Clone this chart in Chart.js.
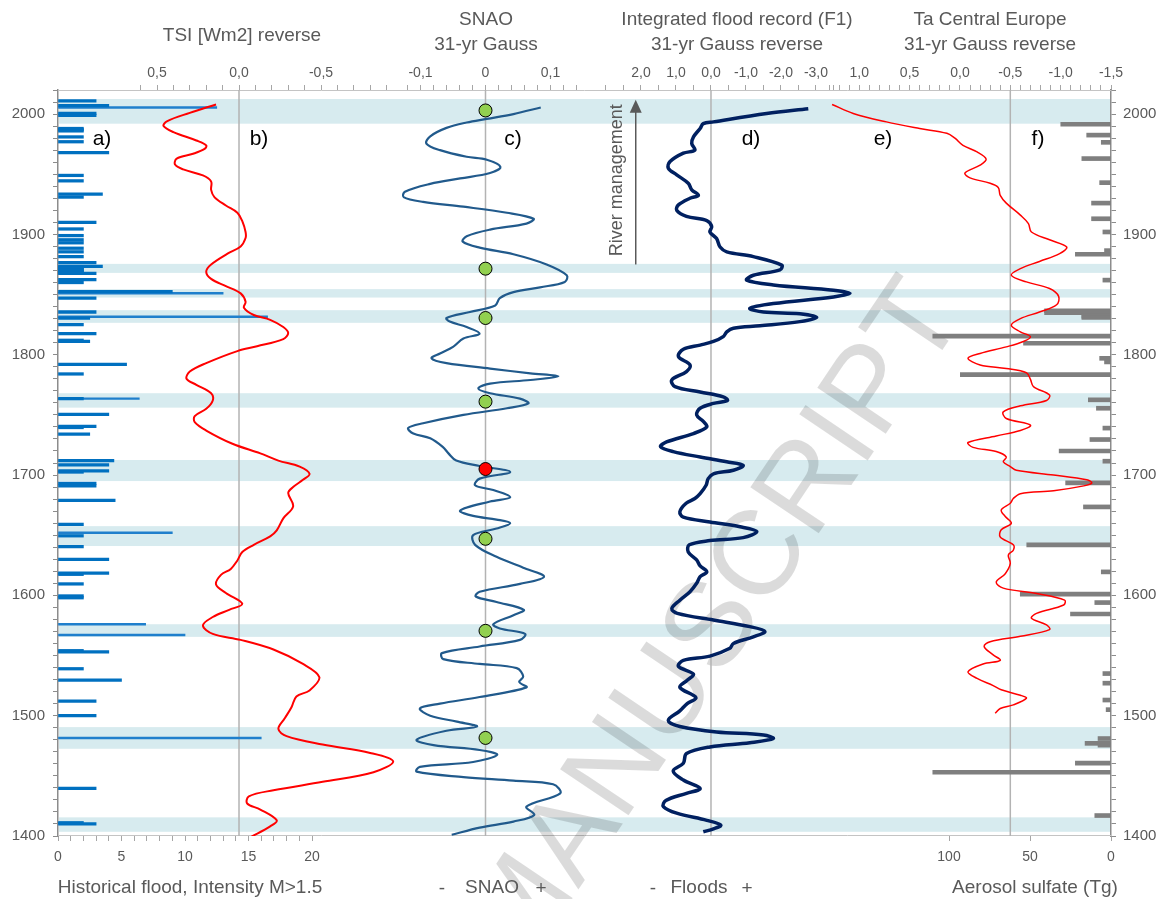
<!DOCTYPE html>
<html lang="en">
<head>
<meta charset="UTF-8" />
<title>Floods, SNAO, TSI and temperature 1400-2000</title>
<script src="https://cdn.jsdelivr.net/npm/chart.js"></script>
<style>
  html, body { margin: 0; padding: 0; background: #fff; overflow: hidden; }
  #wrap { position: relative; width: 1165px; height: 899px; }
</style>
</head>
<body>
<div id="wrap"><canvas id="chart"></canvas></div>
<script>
// ---------- data ----------
// light blue flood-rich periods
const bandStart = [1992, 1868, 1847.5, 1826.5, 1756, 1695, 1641, 1565.5, 1472.5, 1403.5];
const bandEnd   = [2012.5, 1875.5, 1854.5, 1837, 1768, 1712.5, 1657.5, 1576, 1490.5, 1415.5];

// a) historical floods, intensity
const floodYears = [2011, 2007, 2000.5, 1999, 1988, 1987, 1986, 1981, 1977, 1968, 1949, 1944.5, 1933.5, 1931, 1910,
  1904.5, 1899, 1895.5, 1893, 1888.5, 1885.5, 1881.5, 1876.5, 1873.5, 1873, 1872, 1871, 1870, 1869, 1868, 1867.5,
  1862.5, 1860, 1852.5, 1847, 1835.5, 1830.5, 1825, 1817.5, 1812, 1811, 1792, 1784, 1763.5, 1750.5, 1740.5, 1739.5,
  1734, 1712, 1708.5, 1703.5, 1702.5, 1693, 1691, 1679, 1659, 1649.5, 1640.5, 1630, 1618.5, 1617.5, 1609.5,
  1599.5, 1598, 1553, 1554, 1539, 1529.5, 1512, 1500, 1439.5, 1411, 1410];
const floodIntensity = [3, 4, 3, 3, 2, 2, 2, 2, 2, 4, 2, 2, 3.5, 2, 3,
  2, 2, 2, 2, 2, 2, 2, 3, 3.5, 2, 2, 2, 2, 2, 2, 3,
  3, 2, 9, 3, 3, 2.5, 2, 3, 2, 2.5, 5.4, 2, 2, 4, 3, 2,
  2.5, 4.4, 4, 4, 2, 3, 3, 4.5, 2, 2, 2, 4, 4, 2, 2,
  2, 2, 4, 2, 2, 5, 3, 3, 3, 2, 3];
const floodPeakYears = [2005.5, 1851, 1831.5, 1763.5, 1652, 1576, 1567, 1481.5];
const floodPeakIntensity = [12.5, 13, 16.5, 6.4, 9, 6.9, 10, 16];

// b) TSI [Wm2]
const tsiYears = [2008, 2001, 1994, 1990, 1985, 1978, 1974, 1971, 1967, 1963, 1958, 1954, 1949, 1944, 1937, 1931,
  1924, 1918, 1911, 1902, 1897, 1890, 1884, 1875, 1869, 1863, 1857, 1851, 1844, 1839, 1833, 1829, 1823, 1818, 1813,
  1807, 1803, 1793, 1786, 1780, 1775, 1768, 1762, 1755, 1749, 1744, 1737, 1726, 1718, 1712, 1707, 1701, 1696, 1690,
  1685, 1674, 1664, 1654, 1649, 1642, 1636, 1629, 1622, 1617, 1609, 1602, 1593, 1588, 1582, 1575, 1568, 1563, 1555,
  1543, 1532, 1521, 1516, 1507, 1498, 1489, 1483, 1476, 1469, 1462, 1453, 1445, 1438, 1433, 1427, 1422, 1413, 1408, 1399];
const tsiValues = [0.14, 0.30, 0.44, 0.46, 0.40, 0.26, 0.20, 0.21, 0.28, 0.38, 0.39, 0.34, 0.22, 0.17, 0.17, 0.15,
  0.08, 0.01, -0.02, -0.04, -0.04, -0.01, 0.07, 0.17, 0.20, 0.17, 0.08, -0.01, -0.04, -0.03, -0.09, -0.19, -0.27, -0.30, -0.27,
  -0.11, 0.01, 0.20, 0.30, 0.32, 0.26, 0.17, 0.16, 0.20, 0.27, 0.27, 0.20, 0.04, -0.13, -0.24, -0.37, -0.43, -0.39, -0.33,
  -0.30, -0.33, -0.27, -0.23, -0.19, -0.09, -0.02, 0.01, 0.05, 0.11, 0.14, 0.08, -0.02, 0.06, 0.16, 0.22, 0.16, -0.01, -0.21,
  -0.39, -0.49, -0.43, -0.35, -0.32, -0.28, -0.24, -0.29, -0.51, -0.80, -0.94, -0.82, -0.51, -0.21, -0.06, -0.05, -0.13, -0.23, -0.19, -0.07];

// c) SNAO 31-yr Gauss
const snaoYears = [2005.5, 2000, 1996, 1993, 1988.5, 1981.5, 1975.5, 1970, 1964.5, 1962,
  1956, 1951, 1946.5, 1942, 1935.5, 1931, 1927, 1923, 1918, 1913,
  1909, 1904, 1898.5, 1894, 1889, 1883.5, 1875, 1866, 1860.5, 1856,
  1852, 1847, 1841, 1835.5, 1830.5, 1827.5, 1823, 1817.5, 1813.5, 1806.5,
  1801, 1797, 1793, 1788.5, 1784.5, 1782, 1779, 1776, 1772, 1768,
  1763.5, 1759.5, 1755.5, 1750, 1743, 1739, 1734.5, 1730.5, 1723, 1718,
  1712, 1707.5, 1702.5, 1697, 1691.5, 1687.5, 1681.5, 1678, 1670.5, 1666,
  1663, 1660, 1655.5, 1650, 1642, 1632, 1623, 1615.5, 1609.5, 1603,
  1599, 1594.5, 1588, 1583.5, 1576, 1572.5, 1568, 1563, 1557.5, 1552,
  1547, 1543, 1539.5, 1532.5, 1528, 1523.5, 1515.5, 1510, 1506, 1500,
  1495, 1491, 1487.5, 1480, 1475.5, 1471.5, 1467.5, 1461.5, 1457.5, 1453.5,
  1449, 1446, 1443, 1435.5, 1424.5, 1417.5, 1412, 1407, 1401];
const snaoValues = [0.085, 0.043, 0.002, -0.029, -0.060, -0.085, -0.091, -0.070, -0.029, 0.002,
  0.023, 0.007, -0.039, -0.085, -0.124, -0.126, -0.096, -0.034, 0.033, 0.074,
  0.063, 0.007, -0.029, -0.035, -0.009, 0.043, 0.094, 0.125, 0.122, 0.084,
  0.043, 0.022, 0.015, -0.024, -0.060, -0.055, -0.029, -0.009, -0.034, -0.050,
  -0.070, -0.083, -0.060, 0.007, 0.069, 0.112, 0.069, 0.007, -0.011, 0.007,
  0.053, 0.066, 0.033, -0.034, -0.096, -0.119, -0.111, -0.085, -0.065, -0.057,
  -0.045, -0.009, 0.038, -0.009, -0.016, 0.012, 0.038, 0.007, -0.039, -0.019,
  0.017, 0.038, 0.017, -0.019, -0.016, 0.017, 0.058, 0.090, 0.053, -0.009,
  -0.015, 0.017, 0.059, 0.043, 0.012, 0.022, 0.061, 0.053, -0.009, -0.067,
  -0.065, -0.009, 0.048, 0.058, 0.052, 0.063, -0.009, -0.070, -0.101, -0.085,
  -0.044, -0.013, -0.060, -0.106, -0.080, -0.009, 0.018, -0.019, -0.101, -0.106,
  -0.034, 0.043, 0.104, 0.115, 0.063, 0.075, 0.043, -0.009, -0.052];
const markerYears = [2003, 1871.5, 1830.5, 1761, 1705, 1647, 1570.5, 1481.5];
const markerColors = ['#92d050', '#92d050', '#92d050', '#92d050', '#ff0000', '#92d050', '#92d050', '#92d050'];

// d) integrated flood record F1
const f1Years = [2004.5, 2000.5, 1993.5, 1992, 1988, 1981, 1975.5, 1970, 1967.5, 1960.5,
  1955, 1949.5, 1942.5, 1937, 1932.5, 1930, 1924.5, 1920, 1915, 1911.5,
  1906.5, 1902, 1896.5, 1889.5, 1885.5, 1881.5, 1874.5, 1870.5, 1866, 1862,
  1858, 1853.5, 1851, 1848, 1842.5, 1838.5, 1835.5, 1834, 1831, 1827.5,
  1824, 1822, 1819, 1815, 1811, 1808, 1804.5, 1798.5, 1791.5, 1786,
  1779, 1773.5, 1769, 1765, 1762, 1759.5, 1755.5, 1750, 1744.5, 1740,
  1734.5, 1727.5, 1723.5, 1719.5, 1715, 1711, 1708, 1704, 1701, 1697,
  1691.5, 1684.5, 1680.5, 1676.5, 1669.5, 1665, 1661, 1657, 1653, 1648,
  1645.5, 1642, 1636, 1629.5, 1624.5, 1619.5, 1615.5, 1610, 1603, 1596,
  1589, 1585, 1579.5, 1574, 1570, 1565.5, 1560, 1556, 1549.5, 1546,
  1541, 1534.5, 1529.5, 1523.5, 1515, 1510, 1504, 1496, 1491, 1486.5,
  1484, 1481, 1477.5, 1474, 1468.5, 1460.5, 1454, 1446.5, 1439.5, 1435.5,
  1429.5, 1424.5, 1419, 1413, 1409, 1406, 1403.5];
const f1Values = [-2.78, -1.59, -0.07, 0.22, 0.31, 0.50, 0.55, 0.46, 0.79, 1.17,
  1.22, 0.98, 0.65, 0.55, 0.36, 0.60, 0.93, 0.98, 0.70, 0.12,
  -0.02, 0.03, -0.16, -0.26, -0.45, -1.21, -2.02, -1.97, -1.21, -1.02,
  -1.78, -3.50, -3.97, -3.50, -1.78, -1.11, -1.50, -2.54, -3.02, -2.54,
  -1.40, -0.64, -0.45, -0.35, -0.07, 0.31, 0.79, 0.93, 0.60, 0.70,
  1.12, 1.03, 0.31, -0.35, -0.47, -0.07, 0.31, 0.41, 0.22, 0.12,
  0.50, 1.27, 1.44, 1.08, 0.31, -0.45, -0.92, -0.64, -0.07, 0.08,
  0.14, 0.31, 0.46, 0.71, 0.89, 0.79, 0.03, -0.83, -1.31, -0.92,
  0.03, 0.62, 0.65, 0.41, 0.31, 0.12, 0.31, 0.41, 0.60, 0.89,
  1.12, 0.96, -0.07, -1.11, -1.54, -1.21, -0.64, -0.54, 0.03, 0.79,
  0.93, 0.50, 0.68, 0.89, 0.43, 0.68, 0.89, 1.22, 0.89, -0.16,
  -1.50, -1.78, -1.11, 0.03, 0.70, 0.79, 1.08, 0.79, 0.31, 0.70,
  1.29, 1.36, 0.98, 0.12, -0.28, -0.07, 0.22];

// e) Ta Central Europe
const taYears = [2008, 2000.5, 1993.5, 1988, 1984, 1980, 1974, 1968.5, 1962.5, 1957.5,
  1951, 1947, 1942.5, 1939, 1932.5, 1926, 1916, 1909, 1902, 1895.5,
  1889.5, 1884, 1877.5, 1871.5, 1866, 1860.5, 1855, 1848.5, 1841.5, 1835.5,
  1830, 1824.5, 1819, 1815, 1811, 1806.5, 1801, 1797, 1791.5, 1788.5,
  1785, 1779.5, 1773.5, 1766.5, 1762, 1757.5, 1752.5, 1747, 1741.5, 1737,
  1732.5, 1727, 1723, 1719.5, 1715, 1711, 1707, 1704, 1700, 1696,
  1693.5, 1691, 1687, 1684.5, 1680.5, 1676.5, 1671, 1665.5, 1660, 1654.5,
  1648.5, 1642, 1637.5, 1633.5, 1626.5, 1618, 1611, 1606, 1601.5, 1596,
  1592, 1585, 1581, 1575.5, 1571.5, 1566, 1561.5, 1557.5, 1550.5, 1546,
  1543, 1536.5, 1531, 1525, 1521.5, 1517, 1514.5, 1509, 1506, 1502];
const taValues = [1.27, 1.06, 0.73, 0.40, 0.13, 0.05, -0.03, -0.17, -0.26, -0.20,
  -0.05, -0.10, -0.30, -0.38, -0.40, -0.46, -0.60, -0.68, -0.71, -0.89,
  -1.06, -0.99, -0.79, -0.60, -0.51, -0.66, -0.89, -0.98, -0.96, -0.79,
  -0.60, -0.51, -0.60, -0.70, -0.63, -0.46, -0.20, -0.08, -0.20, -0.46,
  -0.66, -0.70, -0.73, -0.89, -0.86, -0.60, -0.43, -0.46, -0.70, -0.60,
  -0.36, -0.08, -0.13, -0.36, -0.46, -0.43, -0.50, -0.56, -0.93, -1.26,
  -1.31, -1.23, -0.93, -0.60, -0.53, -0.50, -0.41, -0.45, -0.51, -0.41,
  -0.40, -0.53, -0.53, -0.48, -0.50, -0.45, -0.36, -0.43, -0.76, -1.04,
  -1.03, -0.76, -0.71, -0.86, -0.89, -0.60, -0.30, -0.24, -0.33, -0.40,
  -0.23, -0.08, -0.17, -0.33, -0.41, -0.60, -0.66, -0.53, -0.40, -0.35];

// f) aerosol sulfate (Tg)
const aerosolYears = [1991.5, 1982.5, 1976.5, 1963, 1943, 1926, 1913, 1902, 1886.5, 1883.5,
  1862, 1836.5, 1835, 1832, 1831, 1815.5, 1809.5, 1797, 1794, 1783.5,
  1762.5, 1755.5, 1739, 1729.5, 1720, 1711.5, 1693.5, 1673.5, 1642, 1619.5,
  1601, 1594, 1584.5, 1535, 1527, 1513, 1505, 1481, 1477, 1475.5,
  1460.5, 1453, 1417];
const aerosolSulfate = [31, 15, 6, 18, 7, 12, 12, 5, 4, 22,
  5, 41, 41, 18, 18, 110, 54, 7, 4, 93,
  14, 9, 5, 13, 32, 5, 28, 17, 52, 6,
  56, 10, 25, 5, 5, 5, 3, 8, 16, 8,
  22, 110, 10];

// axis ticks
const yearTicks = steps(1400, 2020, 10);
const floodTicks = steps(0, 20, 1), floodTickLabels = [0, 5, 10, 15, 20];
const tsiTicks = steps(0.6, -0.9, 0.1), tsiTickLabels = [0.5, 0, -0.5];
const snaoTicks = steps(-0.12, 0.14, 0.02), snaoTickLabels = [-0.1, 0, 0.1];
const f1Ticks = steps(3, -3.5, 0.5), f1TickLabels = [2, 1, 0, -1, -2, -3];
const taTicks = steps(1.3, -1.5, 0.1), taTickLabels = [1, 0.5, 0, -0.5, -1, -1.5];
const aerosolTicks = [0, 50, 100];

// ---------- helpers ----------
function steps(from, to, step) {
  const n = Math.round(Math.abs(to - from) / step);
  const dir = to >= from ? 1 : -1;
  return Array.from({ length: n + 1 }, (_, i) => +(from + dir * i * step).toFixed(4));
}
const FONT = "'Liberation Sans', Arial, sans-serif";
const GREY = '#595959';
const comma1 = v => v.toFixed(1).replace('.', ',');

function xAxis(position, min, max, reverse, tickList, labelList, fmt) {
  return {
    type: 'linear', axis: 'x', position, min, max, reverse, bounds: 'data', offset: false,
    afterFit: s => { s.height = 0; },
    afterBuildTicks: s => { s.ticks = tickList.map(v => ({ value: v })); },
    grid: { display: true, drawOnChartArea: false, drawTicks: true, tickLength: 5, color: '#a6a6a6' },
    border: { display: false },
    ticks: {
      autoSkip: false, maxRotation: 0, padding: position === 'top' ? 3 : 8,
      color: GREY, font: { family: FONT, size: 14 },
      callback: v => labelList.includes(v) ? fmt(v) : ''
    }
  };
}
function yAxis(position, width) {
  return {
    type: 'linear', axis: 'y', position, min: 1400, max: 2020, bounds: 'data', offset: false,
    afterFit: s => { s.width = width; },
    afterBuildTicks: s => { s.ticks = yearTicks.map(v => ({ value: v })); },
    grid: { display: true, offset: false, drawOnChartArea: false, tickLength: 5, color: '#8c8c8c' },
    border: { display: true, color: '#8c8c8c', width: 1.5 },
    ticks: {
      autoSkip: false, padding: position === 'left' ? 8 : 7,
      color: GREY, font: { family: FONT, size: 15 },
      callback: v => v % 100 === 0 ? String(v) : ''
    }
  };
}
function curve(axisId, years, values, color, width) {
  return {
    type: 'scatter', xAxisID: axisId, yAxisID: 'y',
    data: years.map((yr, i) => ({ x: values[i], y: yr })),
    showLine: true, borderColor: color, borderWidth: width,
    pointRadius: 0, tension: 0.35, order: 2
  };
}
function refLine(axisId, value) {
  return {
    type: 'scatter', xAxisID: axisId, yAxisID: 'y',
    data: [{ x: value, y: 1400 }, { x: value, y: 2020 }],
    showLine: true, borderColor: '#b3b3b3', borderWidth: 1.5, pointRadius: 0, order: 10
  };
}
function hbars(axisId, years, values, color, thickness, order) {
  return {
    type: 'bar', indexAxis: 'y', xAxisID: axisId, yAxisID: 'y',
    data: years.map((yr, i) => ({ x: values[i], y: yr })),
    backgroundColor: color, barThickness: thickness, grouped: false, order
  };
}

// ---------- decorations ----------
const decor = {
  id: 'decor',
  // the stacked x axes have zero height; widen their boxes so tick labels are not clipped
  afterLayout(chart) {
    Object.values(chart.scales).forEach(s => {
      if (s.options.position === 'top') s.top = 0;
      if (s.options.position === 'bottom') s.bottom = chart.height;
    });
  },
  beforeDatasetsDraw(chart) {
    const { ctx, chartArea: a, scales: { y } } = chart;
    ctx.save();
    ctx.fillStyle = '#d7ebef';
    bandStart.forEach((s, i) => {
      const top = y.getPixelForValue(bandEnd[i]);
      const bot = y.getPixelForValue(s);
      ctx.fillRect(a.left + 1, top, a.right - a.left - 2, bot - top);
    });
    ctx.strokeStyle = '#c4c4c4';
    ctx.lineWidth = 1;
    ctx.beginPath();
    ctx.moveTo(a.left, a.top + 0.5); ctx.lineTo(a.right, a.top + 0.5);
    ctx.moveTo(a.left, a.bottom - 0.5); ctx.lineTo(a.right, a.bottom - 0.5);
    ctx.stroke();
    // watermark
    ctx.translate(966, 315);
    ctx.rotate(-56 * Math.PI / 180);
    ctx.font = `120px ${FONT}`;
    ctx.fillStyle = 'rgba(0,0,0,0.14)';
    ctx.textAlign = 'right';
    ctx.textBaseline = 'alphabetic';
    ctx.fillText('ACCEPTED MANUSCRIPT', 0, 0);
    ctx.restore();
  },
  afterDatasetsDraw(chart) {
    const { ctx, scales } = chart;
    const t = (s, x, y, size, color = GREY, align = 'center') => {
      ctx.font = `${size}px ${FONT}`;
      ctx.fillStyle = color;
      ctx.textAlign = align;
      ctx.textBaseline = 'middle';
      ctx.fillText(s, x, y);
    };
    ctx.save();
    // column titles
    t('TSI [Wm2] reverse', 242, 36, 19);
    t('SNAO', 486, 20, 19); t('31-yr Gauss', 486, 45, 19);
    t('Integrated flood record (F1)', 737, 20, 19); t('31-yr Gauss reverse', 737, 45, 19);
    t('Ta Central Europe', 990, 20, 19); t('31-yr Gauss reverse', 990, 45, 19);
    // bottom captions
    t('Historical flood, Intensity M>1.5', 190, 888, 19);
    t('-', 442, 889, 19); t('SNAO', 492, 888, 19); t('+', 541, 889, 19);
    t('-', 653, 889, 19); t('Floods', 699, 888, 19); t('+', 747, 889, 19);
    t('Aerosol sulfate (Tg)', 1035, 888, 19);
    // panel letters
    [['a)', 102], ['b)', 259], ['c)', 513], ['d)', 751], ['e)', 883], ['f)', 1038]]
      .forEach(([s, x]) => t(s, x, 139, 21, '#000'));
    // river management arrow
    const ax = scales.xd.getPixelForValue(2.15);
    const yTop = scales.y.getPixelForValue(2012);
    const yBot = scales.y.getPixelForValue(1875);
    ctx.strokeStyle = GREY; ctx.fillStyle = GREY; ctx.lineWidth = 1.5;
    ctx.beginPath(); ctx.moveTo(ax, yBot); ctx.lineTo(ax, yTop + 10); ctx.stroke();
    ctx.beginPath(); ctx.moveTo(ax, yTop); ctx.lineTo(ax - 6, yTop + 13); ctx.lineTo(ax + 6, yTop + 13); ctx.closePath(); ctx.fill();
    ctx.translate(617, scales.y.getPixelForValue(1945));
    ctx.rotate(-Math.PI / 2);
    t('River management', 0, 0, 18);
    ctx.restore();
  }
};

// ---------- chart ----------
new Chart(document.getElementById('chart'), {
  type: 'scatter',
  data: {
    datasets: [
      { type: 'scatter', xAxisID: 'xc', yAxisID: 'y',
        data: markerYears.map(yr => ({ x: 0, y: yr })),
        pointRadius: 6.5, pointBackgroundColor: markerColors, pointBorderColor: '#000',
        pointBorderWidth: 1, showLine: false, order: 0, clip: false },
      curve('xb', tsiYears, tsiValues, '#ff0000', 2),
      curve('xc', snaoYears, snaoValues, '#215a8c', 2.2),
      curve('xd', f1Years, f1Values, '#002060', 3.5),
      curve('xe', taYears, taValues, '#ff0000', 1.5),
      hbars('xa', floodYears, floodIntensity, '#0070c0', 2.6, 5),
      hbars('xa', floodPeakYears, floodPeakIntensity, '#1f7fcc', 1.8, 6),
      hbars('xf', aerosolYears, aerosolSulfate, '#7f7f7f', 4, 5),
      refLine('xb', 0), refLine('xc', 0), refLine('xd', 0), refLine('xe', -0.5)
    ]
  },
  options: {
    responsive: true,
    maintainAspectRatio: false,
    animation: false,
    events: [],
    layout: { padding: { top: 90, bottom: 63, left: 0, right: 0 } },
    plugins: { legend: { display: false }, tooltip: { enabled: false } },
    scales: {
      y: yAxis('left', 58),
      y2: yAxis('right', 54),
      xa: xAxis('bottom', 0, 82.9, false, floodTicks, floodTickLabels, v => String(v)),
      xb: xAxis('top', -5.317, 1.1037, true, tsiTicks, tsiTickLabels, comma1),
      xc: xAxis('top', -0.6577, 0.9623, false, snaoTicks, snaoTickLabels, v => v === 0 ? '0' : comma1(v)),
      xd: xAxis('top', -11.429, 18.657, true, f1Ticks, f1TickLabels, comma1),
      xe: xAxis('top', -1.5, 8.957, true, taTicks, taTickLabels, comma1),
      xf: xAxis('bottom', 0, 650, true, aerosolTicks, aerosolTicks, v => String(v))
    }
  },
  plugins: [decor]
});
</script>
</body>
</html>
